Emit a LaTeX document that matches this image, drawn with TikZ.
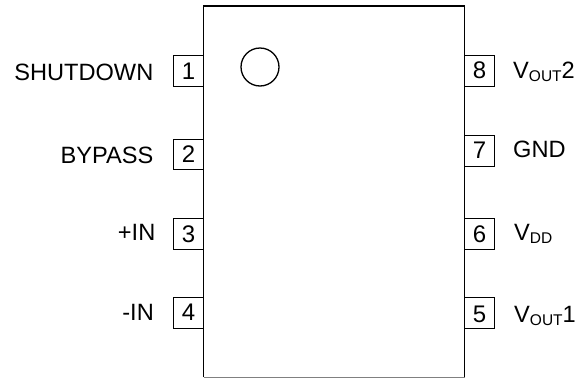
\documentclass[tikz,border=0pt]{standalone}
\usepackage{fontspec}
\setmainfont{Liberation Sans}
\newcommand{\sbs}[1]{\raisebox{-3pt}{\fontsize{15.5}{16}\selectfont #1}}
\tikzset{
  pinbox/.style={draw=black,line width=1.4pt,minimum width=30.5pt,minimum height=30.5pt,inner sep=0pt,outer sep=0pt,fill=white},
  pinnum/.style={inner sep=0pt,font=\fontsize{24}{26}\selectfont,anchor=base},
  lbl/.style={inner sep=0pt,font=\fontsize{23.6}{26}\selectfont,text=black},
  lleft/.style={lbl,anchor=base east},
  lright/.style={lbl,anchor=base west}
}
\begin{document}
\begin{tikzpicture}[x=1pt,y=-1pt]
\useasboundingbox (0,0) rectangle (578,378);
% pin boxes
\node[pinbox] (p1) at (188.5,71) {};
\node[pinbox] (p2) at (188.5,154.5) {};
\node[pinbox] (p3) at (188.5,234) {};
\node[pinbox] (p4) at (188.5,313) {};
\node[pinbox] (p8) at (479.5,71) {};
\node[pinbox] (p7) at (479.5,151) {};
\node[pinbox] (p6) at (479.5,234) {};
\node[pinbox] (p5) at (479.5,313) {};
% body, open at the bottom edge where it meets the lighter line
\coordinate (bl) at (203.5,377);
\coordinate (tl) at (203.5,6);
\coordinate (tr) at (464.5,6);
\coordinate (br) at (464.5,377);
\draw[line width=0.8pt,black!50] (bl) -- (br);
\draw[line width=1.4pt] (bl) -- (tl) -- (tr) -- (br);
\node[circle,draw=black,line width=1.3pt,minimum size=38pt,inner sep=0pt] (dot) at (260,67) {};
% pin numbers
\node[pinnum] (n1) at (188.5,79) {1};
\node[pinnum] (n2) at (188.5,162) {2};
\node[pinnum] (n3) at (188.5,242) {3};
\node[pinnum] (n4) at (188.5,320) {4};
\node[pinnum] (n8) at (479.5,78) {8};
\node[pinnum] (n7) at (479.5,158) {7};
\node[pinnum] (n6) at (479.5,242) {6};
\node[pinnum] (n5) at (479.5,322) {5};
% labels
\node[lleft] (l1) at (153.5,80) {SHUTDOWN};
\node[lleft] (l2) at (153.5,163) {BYPASS};
\node[lleft] (l3) at (155.5,240) {+IN};
\node[lleft] (l4) at (154,320) {-IN};
\node[lright] (l8) at (513,78) {V\sbs{OUT}2};
\node[lright] (l7) at (513,157) {GND};
\node[lright] (l6) at (514,240) {V\sbs{DD}};
\node[lright] (l5) at (514,322) {V\sbs{OUT}1};
\end{tikzpicture}
\end{document}
